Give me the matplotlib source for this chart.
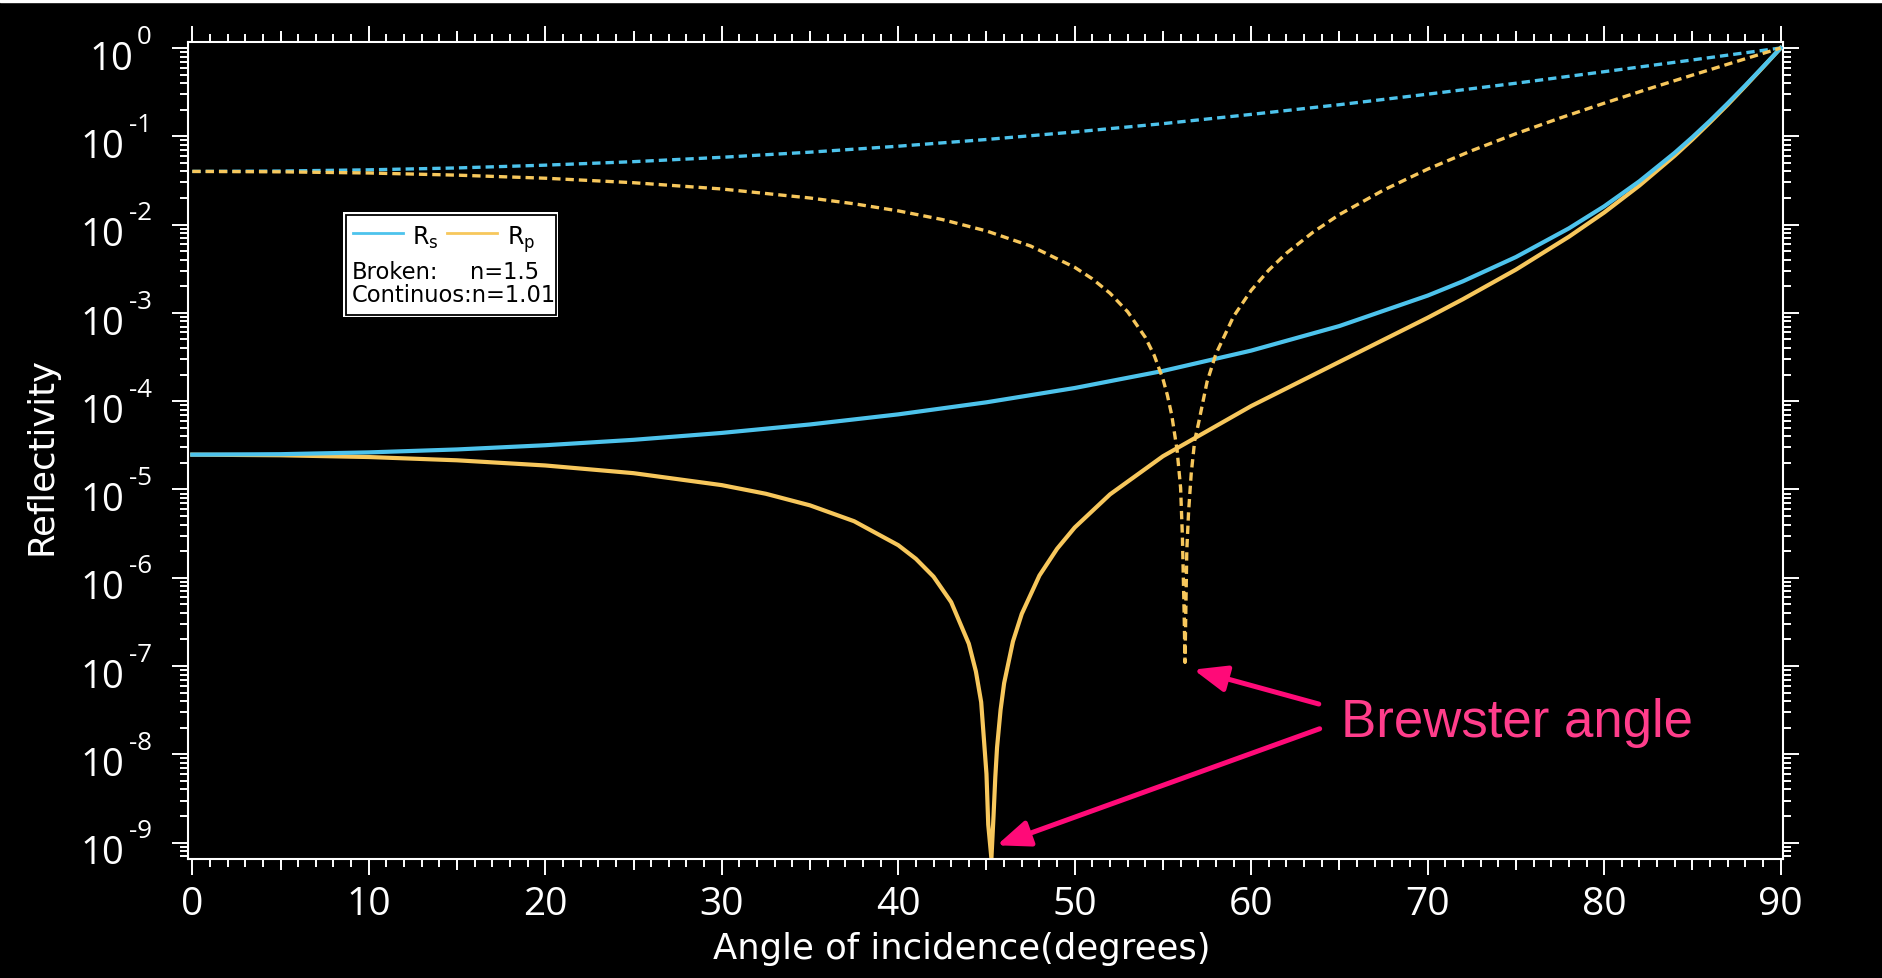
import numpy as np
import matplotlib
matplotlib.use("Agg")
import matplotlib.pyplot as plt
import matplotlib.transforms as mtransforms
from matplotlib.ticker import LogLocator, NullFormatter, MultipleLocator, FixedLocator
from matplotlib.patches import Rectangle

plt.rcParams['font.family'] = ['DejaVu Sans']
plt.rcParams['mathtext.fontset'] = 'dejavusans'
plt.rcParams['axes.unicode_minus'] = False

# n = 1.01 (continuous lines)
ang_c_s = [0, 5, 10, 15, 20, 25, 30, 35, 40, 45, 50, 55, 60, 65, 70, 72, 75, 78, 80,
           82, 84, 85, 86, 87, 88, 89, 89.5, 90]
rs_c = [2.48e-5, 2.51e-5, 2.63e-5, 2.84e-5, 3.17e-5, 3.65e-5, 4.37e-5, 5.45e-5, 7.09e-5,
        9.71e-5, 1.41e-4, 2.20e-4, 3.74e-4, 7.10e-4, 1.57e-3, 2.28e-3, 4.29e-3, 9.06e-3,
        1.61e-2, 3.10e-2, 6.51e-2, 9.77e-2, 0.150, 0.236, 0.377, 0.612, 0.782, 1.0]

ang_c_p = [0, 5, 10, 15, 20, 25, 30, 32.5, 35, 37.5, 40, 41, 42, 43, 44, 44.4, 44.7, 45,
           45.1, 45.28, 45.4, 45.5, 45.6, 45.8, 46, 46.5, 47, 48, 49, 50, 52, 55, 60, 65,
           70, 72, 75, 78, 80, 82, 84, 85, 86, 87, 88, 89, 89.5, 90]
rp_c = [2.48e-5, 2.44e-5, 2.33e-5, 2.14e-5, 1.87e-5, 1.53e-5, 1.12e-5, 8.94e-6, 6.61e-6,
        4.37e-6, 2.34e-6, 1.64e-6, 1.03e-6, 5.3e-7, 1.79e-7, 8.7e-8, 3.9e-8, 6.0e-9,
        1.6e-9, 6.6e-10, 2.0e-9, 5.5e-9, 1.2e-8, 3.2e-8, 6.4e-8, 1.9e-7, 3.9e-7,
        1.06e-6, 2.13e-6, 3.71e-6, 8.80e-6, 2.38e-5, 8.81e-5, 2.79e-4, 8.81e-4,
        1.43e-3, 3.09e-3, 7.28e-3, 1.37e-2, 2.77e-2, 6.04e-2, 9.22e-2, 0.144, 0.228,
        0.370, 0.606, 0.778, 1.0]

# n = 1.5 (broken lines)
ang_b_s = [0, 5, 10, 15, 20, 25, 30, 35, 40, 45, 50, 55, 60, 65, 70, 75, 80, 85, 88, 90]
rs_b = [0.0400, 0.0404, 0.0417, 0.0438, 0.0471, 0.0516, 0.0578, 0.0661, 0.0772, 0.0920,
        0.112, 0.139, 0.177, 0.228, 0.300, 0.399, 0.539, 0.732, 0.883, 1.0]

ang_b_p = [0, 5, 10, 15, 20, 25, 30, 35, 37.5, 40, 42.5, 45, 47.5, 50, 51, 52, 53, 54,
           54.5, 55, 55.25, 55.5, 55.8, 56, 56.1, 56.2, 56.25, 56.35, 56.45, 56.6, 56.8,
           57, 57.5, 58, 59, 60, 61, 62, 63.5, 65, 67.5, 70, 72.5, 75, 77.5, 80, 82.5,
           85, 88, 90]
rp_b = [0.0400, 0.0396, 0.0384, 0.0363, 0.0335, 0.0298, 0.0253, 0.0200, 0.0172, 0.0143,
        0.0114, 0.00847, 0.00572, 0.00328, 0.00243, 0.00167, 0.00103, 5.28e-4,
        3.32e-4, 1.78e-4, 1.17e-4, 6.9e-5, 2.8e-5, 1.04e-5, 3.0e-6, 4.0e-7, 1.1e-7,
        2.0e-6, 5.5e-6, 1.5e-5, 3.6e-5, 5.44e-5, 1.66e-4, 3.42e-4, 9.11e-4, 1.80e-3,
        3.06e-3, 4.75e-3, 8.19e-3, 1.30e-2, 2.46e-2, 4.25e-2, 6.88e-2, 0.107, 0.161,
        0.237, 0.344, 0.493, 0.755, 1.0]

decades = list(range(-9, 1))

BLUE = '#4dc3ec'
YELLOW = '#f7c75c'
PINK = '#ff0a78'
PINK_TXT = '#ff3d8b'
DASH = (0, (2.5, 1.5))
TICK_FONT = ['Open Sans', 'DejaVu Sans']

W, H = 1883, 979
fig = plt.figure(figsize=(W / 100, H / 100), dpi=100, facecolor='black')
fig.add_artist(Rectangle((0, 1 - 3 / H), 1, 3 / H, transform=fig.transFigure,
                         color='white', zorder=10))

ax = fig.add_axes([187.7 / W, 1 - 860 / H, (1783.3 - 187.7) / W, (860 - 43.3) / H])
ax.set_facecolor('black')

ax.plot(ang_c_p, rp_c, color=YELLOW, lw=3, zorder=2)
ax.plot(ang_c_s, rs_c, color=BLUE, lw=3, zorder=3)
ax.plot(ang_b_s, rs_b, color=BLUE, lw=2.4, ls=DASH, zorder=4)
ax.plot(ang_b_p, rp_b, color=YELLOW, lw=2.4, ls=DASH, zorder=5)

ax.set_yscale('log')
ax.set_xlim(-0.26, 90.15)
ax.set_ylim(6.53e-10, 1.16)

# mid-decade ticks at 5, 15, ... on top and bottom
ax5 = ax.twiny()
ax5.set_xlim(ax.get_xlim())
ax5.xaxis.set_major_locator(FixedLocator(np.arange(5, 90, 10)))
ax5.xaxis.set_minor_locator(FixedLocator([]))
ax5.tick_params(axis='x', which='major', direction='out', length=8, width=1.4,
                color='white', top=True, bottom=True, labeltop=False, labelbottom=False)
for s in ax5.spines.values():
    s.set_visible(False)

ax.xaxis.set_ticks_position('both')
ax.yaxis.set_ticks_position('both')
ax.xaxis.set_major_locator(FixedLocator(np.arange(0, 91, 10)))
ax.xaxis.set_minor_locator(MultipleLocator(1))
ax.yaxis.set_major_locator(FixedLocator([10.0 ** k for k in decades]))
ax.yaxis.set_minor_locator(LogLocator(base=10, subs=np.arange(2, 10), numticks=200))
ax.yaxis.set_major_formatter(NullFormatter())
ax.yaxis.set_minor_formatter(NullFormatter())

for s in ax.spines.values():
    s.set_color('white')
    s.set_linewidth(1.5)
ax.tick_params(which='both', direction='out', colors='white', top=True, right=True,
               labeltop=False, labelright=False, width=1.4)
ax.tick_params(which='major', length=11.5, labelsize=28, labelfontfamily=TICK_FONT)
ax.tick_params(which='minor', length=5.5)
ax.tick_params(axis='x', which='major', pad=7)

# y labels: "10" with a raised exponent
renderer = fig.canvas.get_renderer()
ylab = mtransforms.blended_transform_factory(ax.transAxes, ax.transData)
for k in decades:
    off = mtransforms.ScaledTranslation(-36 / 100, 5.3 / 100, fig.dpi_scale_trans)
    e = ax.text(0, 10.0 ** k, str(k), transform=ylab + off, ha='right', va='baseline',
                fontsize=18.6, color='white', family=TICK_FONT)
    w = e.get_window_extent(renderer).width
    off10 = mtransforms.ScaledTranslation((-36 - w - 4) / 100, -20.7 / 100,
                                          fig.dpi_scale_trans)
    ax.text(0, 10.0 ** k, '10', transform=ylab + off10, ha='right', va='baseline',
            fontsize=27.5, color='white', family=TICK_FONT)

fig.text(962 / W, 1 - 949 / H, 'Angle of incidence(degrees)', color='white',
         fontsize=25.5, ha='center', va='center')
fig.text(42 / W, 1 - 456 / H, 'Reflectivity', color='white', fontsize=25.5,
         rotation=90, ha='center', va='center')

# Brewster angle callouts
arrow = dict(arrowstyle='-|>,head_length=1.0,head_width=0.4', color=PINK, lw=3.6,
             shrinkA=0, shrinkB=0, mutation_scale=20)
ax.annotate('', xy=(56.73, 10 ** -7.04), xytext=(63.83, 10 ** -7.43), arrowprops=arrow)
ax.annotate('', xy=(45.58, 10 ** -9.03), xytext=(63.88, 10 ** -7.71), arrowprops=arrow,
            annotation_clip=False)
ax.text(65.09, 10 ** -7.79, 'Brewster angle', color=PINK_TXT, fontsize=38,
        family=['Liberation Sans', 'DejaVu Sans'], va='baseline', ha='left')

# legend box
lg = fig.add_axes([343.3 / W, 1 - 318.3 / H, 215 / W, 105 / H])
lg.set_xlim(0, 215)
lg.set_ylim(105, 0)
lg.set_facecolor('white')
lg.set_xticks([])
lg.set_yticks([])
for s in lg.spines.values():
    s.set_visible(False)
lg.add_patch(Rectangle((2.4, 2.4), 215 - 4.4, 105 - 4.4, fill=False, ec='black', lw=1.3))
lg.plot([10, 60], [21, 21], color=BLUE, lw=2)
lg.plot([103.4, 153.4], [21, 21], color=YELLOW, lw=2)
lg.text(68.4, 31.7, r'R$_\mathregular{s}$', fontsize=17, va='baseline')
lg.text(163.4, 31.7, r'R$_\mathregular{p}$', fontsize=17, va='baseline')
lg.text(8.4, 65.7, 'Broken:', fontsize=16.3, va='baseline')
lg.text(126.7, 65.7, 'n=1.5', fontsize=16.3, va='baseline')
lg.text(8.4, 88.4, 'Continuos:n=1.01', fontsize=16.3, va='baseline')

fig.savefig('out.png', dpi=100, facecolor='black')
